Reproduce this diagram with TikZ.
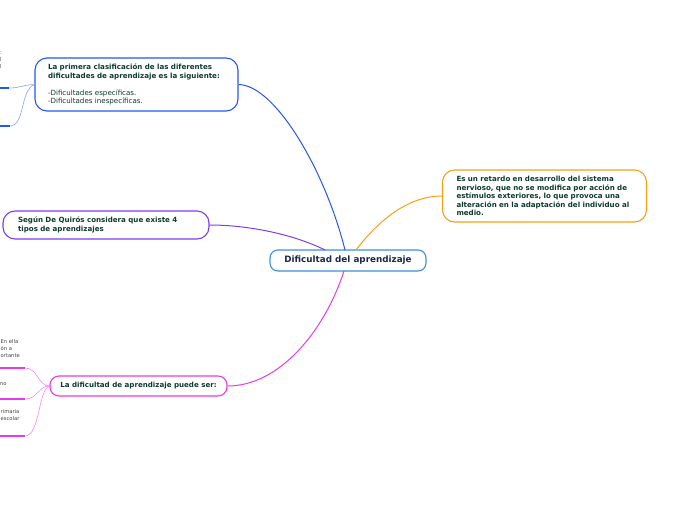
\documentclass[tikz,border=0pt]{standalone}
\usepackage{fontspec}
\setmainfont{DejaVu Sans}
\definecolor{mapBlue}{HTML}{2457F0}
\definecolor{mapSky}{HTML}{3D8FD8}
\definecolor{mapOrange}{HTML}{F6A01A}
\definecolor{mapPurple}{HTML}{7B3CF2}
\definecolor{mapPink}{HTML}{E53BEA}
\definecolor{mapText}{HTML}{0E3B2C}
\definecolor{mapNavy}{HTML}{1B2A4A}
\usetikzlibrary{calc}

\begin{document}
\begin{tikzpicture}[x=1pt, y=-1pt,
  topic/.style={rounded corners=12pt, line width=1.1pt, fill=white,
    align=left, text=mapText, inner ysep=3pt,
    font=\fontsize{7.1}{8.4}\selectfont\bfseries},
  link/.style={line width=1pt},
  twig/.style={line width=0.6pt},
  leaf/.style={line width=1.3pt},
  leaftext/.style={anchor=north west, align=left, inner sep=0pt,
    text=black!75, font=\fontsize{5.2}{7}\selectfont}]
  \useasboundingbox (0,0) rectangle (696,520);
  \clip (0,0) rectangle (696,520);

  % central topic
  \node[topic, draw=mapSky, text=mapNavy, align=center, rounded corners=8pt,
    minimum width=156pt, minimum height=21pt,
    font=\fontsize{8.8}{10}\selectfont\bfseries] (c) at (348,260.5)
    {Dificultad del aprendizaje};

  % main branches
  \node[topic, draw=mapOrange, text width=176pt, inner xsep=14pt,
    minimum height=52pt] (def) at (544.5,196)
    {Es un retardo en desarrollo del sistema\\nervioso, que no se modifica por acción de\\estímulos exteriores, lo que provoca una\\alteración en la adaptación del individuo al\\medio.};
  \node[topic, draw=mapBlue, text width=177pt, inner xsep=13pt,
    minimum height=53pt] (clas) at (136.5,84.5)
    {La primera clasificación de las diferentes\\dificultades de aprendizaje es la siguiente:\\[8.4pt]
     \mdseries-Dificultades específicas.\\\mdseries-Dificultades inespecíficas.};
  \node[topic, draw=mapPurple, text width=176pt, inner xsep=15pt,
    minimum height=28pt] (quiros) at (106,225)
    {Según De Quirós considera que existe 4\\tipos de aprendizajes};
  \node[topic, draw=mapPink, align=center, rounded corners=9pt,
    minimum width=177pt, minimum height=20pt] (puede) at (138.5,386)
    {La dificultad de aprendizaje puede ser:};

  \coordinate (cBlue) at (345,250);
  \coordinate (cOrange) at (356,250);
  \coordinate (cPurple) at (325,250);
  \coordinate (cPink) at (344,271);

  \draw[link, mapBlue] (clas.east) .. controls (275,85) and (325,170) .. (cBlue);
  \draw[link, mapOrange] (def.west) .. controls (405,196) and (375,225) .. (cOrange);
  \draw[link, mapPurple] (quiros.east) .. controls (250,225) and (295,235) .. (cPurple);
  \draw[link, mapPink] (puede.east) .. controls (280,386) and (325,330) .. (cPink);

  % leaves cut at the left edge
  \coordinate (l1) at (9,88);
  \coordinate (l2) at (10,126);
  \draw[twig, mapBlue!55] (clas.west) .. controls (22,85) and (20,88) .. (l1);
  \draw[twig, mapBlue!55] (clas.west) .. controls (20,90) and (25,126) .. (l2);
  \draw[leaf, mapBlue] (l1) -- ++(-12,0);
  \draw[leaf, mapBlue] (l2) -- ++(-12,0);
  \node[leaftext] (t1) at (0,52) {:\\l\\l};

  \coordinate (m1) at (25,368);
  \coordinate (m2) at (25,399);
  \coordinate (m3) at (25,436);
  \draw[twig, mapPink!60] (puede.west) .. controls (38,386) and (38,368) .. (m1);
  \draw[twig, mapPink!60] (puede.west) .. controls (38,386) and (38,399) .. (m2);
  \draw[twig, mapPink!60] (puede.west) .. controls (38,390) and (40,436) .. (m3);
  \draw[leaf, mapPink] (m1) -- ++(-28,0);
  \draw[leaf, mapPink] (m2) -- ++(-28,0);
  \draw[leaf, mapPink] (m3) -- ++(-28,0);
  \node[leaftext] (u1) at (0.5,339) {En ella\\ón a\\ortante};
  \node[leaftext] (u2) at (0,382) {no};
  \node[leaftext] (u3) at (0.5,409) {rimaria\\escolar};
\end{tikzpicture}
\end{document}
